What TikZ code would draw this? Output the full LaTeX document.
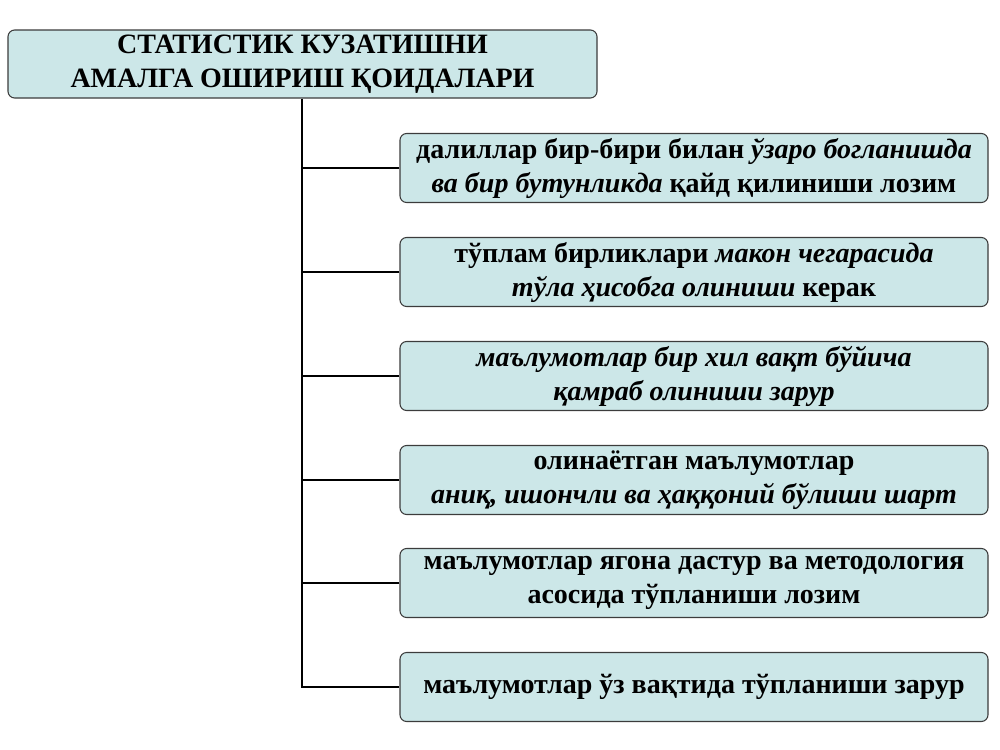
\documentclass[tikz,border=0pt]{standalone}
\usepackage{fontspec}
\setmainfont{Liberation Serif}
\definecolor{boxfill}{RGB}{204,231,232}
\definecolor{boxline}{RGB}{60,60,60}
\tikzset{
  rulebox/.style={draw=boxline, line width=0.8pt, fill=boxfill, rounded corners=5pt,
    minimum width=588*0.75pt, minimum height=69*0.75pt, align=center,
    font=\fontsize{21}{25.5}\selectfont\bfseries, inner sep=0pt},
  link/.style={line width=2pt, black}
}
\begin{document}
\begin{tikzpicture}[x=0.75pt,y=-0.75pt]
\useasboundingbox (0,0) rectangle (1000,750);
\node[rulebox, minimum width=589*0.75pt, minimum height=68*0.75pt] (t) at (302.5,64) {СТАТИСТИК КУЗАТИШНИ\\АМАЛГА ОШИРИШ ҚОИДАЛАРИ};
\node[rulebox] (b1) at (694,168) {далиллар бир-бири билан \textit{ўзаро богланишда}\\\textit{ва бир бутунликда} қайд қилиниши лозим};
\node[rulebox] (b2) at (694,272) {тўплам бирликлари \textit{макон чегарасида}\\\textit{тўла ҳисобга олиниши} керак};
\node[rulebox] (b3) at (694,376) {\textit{маълумотлар бир хил вақт бўйича}\\\textit{қамраб олиниши зарур}};
\node[rulebox] (b4) at (694,480) {олинаётган маълумотлар\\\textit{аниқ, ишончли ва ҳаққоний бўлиши шарт}};
\node[rulebox] (b5) at (694,583) {маълумотлар ягона дастур ва методология\\асосида тўпланиши лозим};
\node[rulebox] (b6) at (694,687) {маълумотлар ўз вақтида тўпланиши зарур};
\draw[link] (t.south -| 302,0) -- (302,687) -- (b6.west);
\foreach \b in {b1,b2,b3,b4,b5}
  \draw[link] (\b.west) -- (\b.west -| 302,0);
\end{tikzpicture}
\end{document}
